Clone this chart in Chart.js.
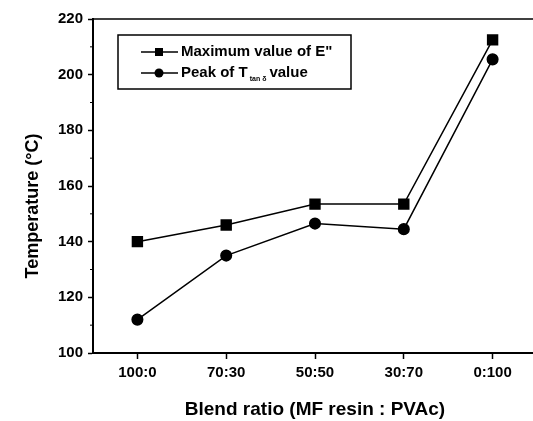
<!DOCTYPE html>
<html>
<head>
<meta charset="utf-8">
<script src="https://cdn.jsdelivr.net/npm/chart.js@4"></script>
<style>
  html, body { margin: 0; padding: 0; background: #fff; overflow: hidden; }
  #wrap { width: 560px; height: 421px; }
</style>
</head>
<body>
<div id="wrap"><canvas id="tempChart" width="560" height="421"></canvas></div>
<script>
const categories = ['100:0', '70:30', '50:50', '30:70', '0:100'];
const maxEValues = [140, 146, 153.5, 153.5, 212.5];
const peakTanValues = [112, 135, 146.5, 144.5, 205.5];
const yTicks = [100, 120, 140, 160, 180, 200, 220];

const FONT = '"Liberation Sans", Arial, sans-serif';

// frame line on top, minor ticks, axis titles and the boxed legend
const extras = {
  id: 'extras',
  afterDraw(chart) {
    const ctx = chart.ctx;
    const area = chart.chartArea;
    const y = chart.scales.y;
    ctx.save();
    ctx.strokeStyle = '#000';
    ctx.lineWidth = 1.5;
    ctx.beginPath();
    ctx.moveTo(area.left, area.top);
    ctx.lineTo(chart.width, area.top);
    ctx.stroke();

    // minor ticks halfway between labelled ones
    ctx.lineWidth = 1;
    for (let i = 0; i < yTicks.length - 1; i++) {
      const py = y.getPixelForValue((yTicks[i] + yTicks[i + 1]) / 2);
      ctx.beginPath();
      ctx.moveTo(area.left - 3, py);
      ctx.lineTo(area.left, py);
      ctx.stroke();
    }

    ctx.fillStyle = '#000';
    ctx.textAlign = 'center';
    ctx.textBaseline = 'middle';
    ctx.font = 'bold 18px ' + FONT;
    ctx.save();
    ctx.translate(33, 206);
    ctx.rotate(-Math.PI / 2);
    ctx.fillText('Temperature (°C)', 0, 0);
    ctx.restore();
    ctx.font = 'bold 19px ' + FONT;
    ctx.fillText('Blend ratio (MF resin : PVAc)', (area.left + area.right) / 2, 410);

    // legend
    const lx = area.left + 25, ly = area.top + 16;
    ctx.lineWidth = 1.5;
    ctx.strokeRect(lx, ly, 233, 54);
    const rows = [ly + 17, ly + 38];
    rows.forEach((ry, i) => {
      ctx.beginPath();
      ctx.moveTo(lx + 23, ry);
      ctx.lineTo(lx + 60, ry);
      ctx.lineWidth = 1.5;
      ctx.stroke();
      if (i === 0) {
        ctx.fillRect(lx + 41 - 4, ry - 4, 8, 8);
      } else {
        ctx.beginPath();
        ctx.arc(lx + 41, ry, 4.5, 0, Math.PI * 2);
        ctx.fill();
      }
    });
    ctx.textAlign = 'left';
    ctx.font = 'bold 15px ' + FONT;
    ctx.fillText('Maximum value of E"', lx + 63, rows[0]);
    let tx = lx + 63;
    ctx.fillText('Peak of T', tx, rows[1]);
    tx += ctx.measureText('Peak of T').width + 2;
    ctx.font = 'bold 7px ' + FONT;
    ctx.fillText('tan δ', tx, rows[1] + 6);
    tx += ctx.measureText('tan δ').width + 3;
    ctx.font = 'bold 15px ' + FONT;
    ctx.fillText('value', tx, rows[1]);
    ctx.restore();
  }
};

new Chart(document.getElementById('tempChart'), {
  type: 'line',
  data: {
    labels: categories,
    datasets: [
      {
        label: 'Maximum value of E"',
        data: maxEValues,
        borderColor: '#000',
        backgroundColor: '#000',
        borderWidth: 1.5,
        pointStyle: 'rect',
        pointRadius: 7,
        pointHoverRadius: 7,
        tension: 0
      },
      {
        label: 'Peak of T tan δ value',
        data: peakTanValues,
        borderColor: '#000',
        backgroundColor: '#000',
        borderWidth: 1.5,
        pointStyle: 'circle',
        pointRadius: 5.3,
        pointHoverRadius: 5.3,
        tension: 0
      }
    ]
  },
  options: {
    responsive: false,
    animation: false,
    events: [],
    layout: { padding: { top: 19, right: 23, left: 0, bottom: 0 } },
    plugins: {
      legend: { display: false },
      tooltip: { enabled: false }
    },
    scales: {
      x: {
        offset: true,
        grid: { drawOnChartArea: false, tickLength: 6, tickColor: '#000', tickWidth: 1.5, offset: false },
        border: { color: '#000', width: 2 },
        ticks: { color: '#000', padding: 5, font: { family: FONT, size: 15, weight: 'bold' } },
        afterFit(scale) { scale.height = 68; }
      },
      y: {
        min: 100,
        max: 220,
        ticks: { stepSize: 20, color: '#000', padding: 5, font: { family: FONT, size: 15, weight: 'bold' } },
        grid: { drawOnChartArea: false, tickLength: 5, tickColor: '#000', tickWidth: 1.5 },
        border: { color: '#000', width: 2 },
        afterFit(scale) { scale.width = 93; }
      }
    }
  },
  plugins: [extras]
});
</script>
</body>
</html>
